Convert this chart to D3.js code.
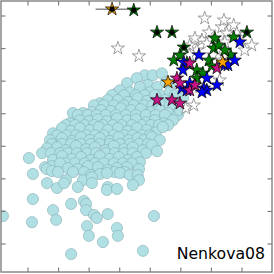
<!DOCTYPE html>
<html>
<head>
<meta charset="utf-8">
<title>Nenkova08</title>
<style>
  html, body { margin: 0; padding: 0; background: #fff; }
  svg { display: block; }
</style>
</head>
<body>
<svg width="274" height="274"></svg>
<script src="https://d3js.org/d3.v7.min.js"></script>
<script>
// model grid (light blue discs), x/y in tick units
const models = [
  [3.82,5.18],[4.08,5.18],[4.38,5.24],
  [3.24,4.94],[3.56,5.09],[3.92,4.88],[4.22,4.82],[4.51,4.97],[4.64,4.88],
  [2.91,4.63],[3.01,4.72],[3.33,4.66],[3.66,4.82],[3.99,4.66],[4.31,4.57],[4.64,4.66],[4.80,4.57],[5.07,4.48],
  [2.75,4.57],[3.14,4.57],[3.53,4.57],[3.82,4.57],[4.15,4.57],
  [2.35,4.32],[2.61,4.42],[2.94,4.42],[3.27,4.36],[3.59,4.48],[3.89,4.39],[4.18,4.29],[4.48,4.42],[4.80,4.23],
  [2.16,4.26],[2.48,4.26],[2.81,4.26],[3.14,4.26],[3.46,4.26],[3.79,4.26],[4.08,4.26],[4.38,4.26],[4.64,4.26],
  [1.47,4.02],[1.80,4.02],[2.09,4.05],[2.39,4.11],[2.71,4.08],[3.04,4.17],[3.37,4.11],[3.69,4.14],[4.02,4.05],[4.31,4.11],[4.58,4.02],[4.90,3.96],[4.97,4.11],
  [1.63,3.96],[1.96,3.96],[2.25,3.96],[2.55,3.96],[2.88,3.96],[3.20,3.96],[3.53,3.96],[3.86,3.96],[4.18,3.96],[4.48,3.96],
  [1.37,3.71],[1.70,3.80],[1.99,3.77],[2.29,3.83],[2.58,3.77],[2.91,3.86],[3.24,3.80],[3.53,3.83],[3.86,3.74],[4.15,3.80],[4.44,3.71],[4.74,3.80],
  [1.24,3.65],[1.54,3.65],[1.86,3.65],[2.16,3.65],[2.45,3.65],[2.78,3.65],[3.07,3.65],[3.40,3.65],[3.73,3.65],[4.02,3.65],[4.28,3.65],[4.58,3.65],
  [0.82,3.40],[1.11,3.56],[1.41,3.47],[1.70,3.56],[2.03,3.50],[2.32,3.59],[2.61,3.50],[2.94,3.56],[3.27,3.47],[3.56,3.56],[3.89,3.50],[4.18,3.43],[4.41,3.59],
  [0.95,3.34],[1.27,3.34],[1.57,3.34],[1.90,3.34],[2.19,3.34],[2.48,3.34],[2.81,3.34],[3.14,3.34],[3.43,3.34],[3.73,3.34],[3.99,3.34],
  [0.72,3.19],[1.11,3.25],[1.44,3.16],[1.73,3.28],[2.03,3.19],[2.35,3.25],[2.68,3.16],[2.97,3.28],[3.30,3.19],[3.59,3.25],[3.79,3.19],[4.05,3.28],[4.31,3.19],
  [0.78,3.07],[1.11,3.07],[1.41,3.07],[1.73,3.07],[2.06,3.07],[2.35,3.07],[2.68,3.07],[3.01,3.07],[3.33,3.07],[3.63,3.07],[3.92,3.07],
  [0.62,2.94],[0.95,2.97],[1.24,2.88],[1.57,3.01],[1.90,2.91],[2.19,2.97],[2.52,2.88],[2.81,3.01],[3.14,2.91],[3.43,2.97],[3.76,2.88],[4.05,3.04],[4.22,2.85],
  [0.46,2.79],[0.75,2.79],[1.05,2.79],[1.31,2.79],[1.60,2.79],[1.93,2.79],[2.22,2.79],[2.55,2.79],[2.84,2.79],[3.14,2.79],[3.43,2.79],[3.86,2.79],
  [0.03,2.64],[0.82,2.58],[1.11,2.70],[1.44,2.61],[1.73,2.67],[2.06,2.58],[2.35,2.70],[2.68,2.61],[2.97,2.67],[3.27,2.58],[3.56,2.67],[3.66,2.51],
  [1.24,2.48],[1.54,2.48],[1.86,2.48],[2.19,2.48],[2.48,2.48],[2.81,2.48],[3.10,2.48],[3.40,2.48],
  [0.56,2.36],[0.78,2.39],[1.05,2.48],[0.62,2.30],[0.78,2.24],[1.31,2.33],[1.63,2.30],[1.96,2.39],[2.29,2.36],[2.61,2.27],[2.91,2.33],[3.24,2.36],[3.63,2.30],
  [0.98,2.21],[1.47,2.21],[1.83,2.21],[2.84,2.21],[3.17,2.21],
  [0.16,2.15],[2.06,2.12],[2.35,2.15],[2.58,2.18],[3.01,2.18],[3.33,2.12],[3.59,2.12],[3.63,1.96],[1.24,1.96],[1.80,1.96],[2.09,2.05],
  [0.62,1.87],[0.95,1.72],[1.18,1.87],[1.63,1.75],[2.09,1.87],[2.61,1.75],[2.58,1.66],[2.91,1.69],[3.43,1.81],
  [0.16,1.38],[1.41,1.23],[1.83,1.32],[1.90,1.23],
  [-0.82,0.86],[0.13,0.67],[0.82,1.04],[0.92,0.74],[1.90,1.04],[2.16,0.89],[2.25,0.80],[1.93,0.55],[2.61,0.92],[2.91,0.49],[4.12,0.86],
  [1.99,0.25],[2.94,0.25],[2.45,0.06],[1.41,-0.31],[3.76,-0.21]
];

const openStars = [
  [2.94,6.01],[3.63,5.77],[5.78,6.93],[6.34,6.66],[6.73,6.72],[6.41,6.87],[6.83,6.47],[7.32,6.10],
  [6.50,6.47],[5.92,6.50],[5.69,6.26],[5.85,6.16],[5.46,6.32],[6.44,6.20],[6.18,5.95],[5.52,5.95],
  [6.34,5.64],[5.62,4.82],[6.27,5.03],[5.42,4.26],[5.16,4.17],[6.60,5.80],[6.05,5.80],[5.29,5.80],
  [7.09,5.95],[6.93,6.32],[5.29,6.10]
];
const greenStars = [
  [6.11,6.32],[6.73,6.35],[6.08,6.01],[6.63,5.80],[4.77,5.64],[4.97,5.80],[5.92,5.64],[5.52,5.34],
  [5.52,5.09],[6.24,6.10],[6.01,5.46],[5.20,5.55],[5.72,5.24],[6.44,5.95]
];
const blueStars = [
  [6.93,6.20],[6.44,5.49],[5.59,5.80],[5.10,5.58],[5.85,5.09],[6.18,4.88],[5.75,4.78],[5.03,4.78],
  [5.20,4.72],[6.54,5.49],[5.07,5.34],[5.29,4.94],[5.85,4.72],[5.69,4.66],[6.76,5.64]
];
const magentaStars = [
  [5.29,5.55],[6.18,5.40],[4.87,5.09],[4.97,4.94],[5.29,4.72],[5.46,4.88],[4.22,4.42],[4.71,4.42],[4.97,4.32]
];
const orangeStars = [[4.58,4.97],[6.37,5.58]];
// stars marked with a black dot
const dotGreen = [[3.46,7.18],[4.22,6.50],[4.71,6.50],[5.10,6.04],[7.16,6.50]];
const dotOrange = [[2.75,7.21,0.54]]; // x, y, x error

const xTicks = [0,1,2,3,4,5,6,7];
const yTicks = [0,1,2,3,4,5,6,7];

const frame = { l: 1, r: 272, t: 1, b: 272 };

const x = d3.scaleLinear().domain([0, 7]).range([28, 242]);
const y = d3.scaleLinear().domain([0, 7]).range([244, 16]);

const svg = d3.select("svg");

svg.append("clipPath").attr("id", "clip")
  .append("rect").attr("x", frame.l).attr("y", frame.t)
  .attr("width", frame.r - frame.l).attr("height", frame.b - frame.t);
const g = svg.append("g").attr("clip-path", "url(#clip)");

g.selectAll("circle.m").data(models).enter().append("circle")
  .attr("class", "m")
  .attr("cx", d => x(d[0])).attr("cy", d => y(d[1]))
  .attr("r", 5.6)
  .attr("fill", "#b0dfe4")
  .attr("stroke", "#86aeb3")
  .attr("stroke-width", 0.6);

function starPath(R) {
  const r = R * 0.382;
  const pts = [];
  for (let i = 0; i < 10; i++) {
    const a = -Math.PI / 2 + i * Math.PI / 5;
    const rr = i % 2 === 0 ? R : r;
    pts.push([rr * Math.cos(a), rr * Math.sin(a)]);
  }
  return "M" + pts.map(p => p[0].toFixed(2) + "," + p[1].toFixed(2)).join("L") + "Z";
}
const star = starPath(7);

function drawStars(data, fill, stroke) {
  g.append("g").selectAll("path").data(data).enter().append("path")
    .attr("d", star)
    .attr("transform", d => `translate(${x(d[0])},${y(d[1])})`)
    .attr("fill", fill)
    .attr("stroke", stroke)
    .attr("stroke-width", 0.7);
}

drawStars(openStars, "#ffffff", "#777");
drawStars(greenStars, "#008000", "#000");
drawStars(blueStars, "#0000ff", "#000");
drawStars(magentaStars, "#c71585", "#000");
drawStars(orangeStars, "#ffa500", "#000");

// error bar
g.selectAll("line.err").data(dotOrange).enter().append("line")
  .attr("x1", d => x(d[0] - d[2])).attr("x2", d => x(d[0] + d[2]))
  .attr("y1", d => y(d[1])).attr("y2", d => y(d[1]))
  .attr("stroke", "#888").attr("stroke-width", 1.5);

drawStars(dotOrange, "#ffa500", "#000");
drawStars(dotGreen, "#008000", "#000");
g.append("g").selectAll("circle").data(dotGreen.concat(dotOrange)).enter().append("circle")
  .attr("cx", d => x(d[0])).attr("cy", d => y(d[1]))
  .attr("r", 2.6).attr("fill", "#000");

// frame + inward ticks
const axisCol = "#808080";
svg.append("rect").attr("x", frame.l).attr("y", frame.t)
  .attr("width", frame.r - frame.l).attr("height", frame.b - frame.t)
  .attr("fill", "none").attr("stroke", axisCol).attr("stroke-width", 1.4);

const tl = 4.5;
const ticks = svg.append("g").attr("stroke", axisCol).attr("stroke-width", 1.2);
xTicks.forEach(t => {
  ticks.append("line").attr("x1", x(t)).attr("x2", x(t)).attr("y1", frame.t).attr("y2", frame.t + tl);
  ticks.append("line").attr("x1", x(t)).attr("x2", x(t)).attr("y1", frame.b).attr("y2", frame.b - tl);
});
yTicks.forEach(t => {
  ticks.append("line").attr("y1", y(t)).attr("y2", y(t)).attr("x1", frame.l).attr("x2", frame.l + tl);
  ticks.append("line").attr("y1", y(t)).attr("y2", y(t)).attr("x1", frame.r).attr("x2", frame.r - tl);
});

svg.append("text")
  .attr("x", 265).attr("y", 259)
  .attr("text-anchor", "end")
  .attr("font-family", "DejaVu Sans, sans-serif")
  .attr("font-size", 15.7)
  .attr("fill", "#000")
  .text("Nenkova08");
</script>
</body>
</html>
